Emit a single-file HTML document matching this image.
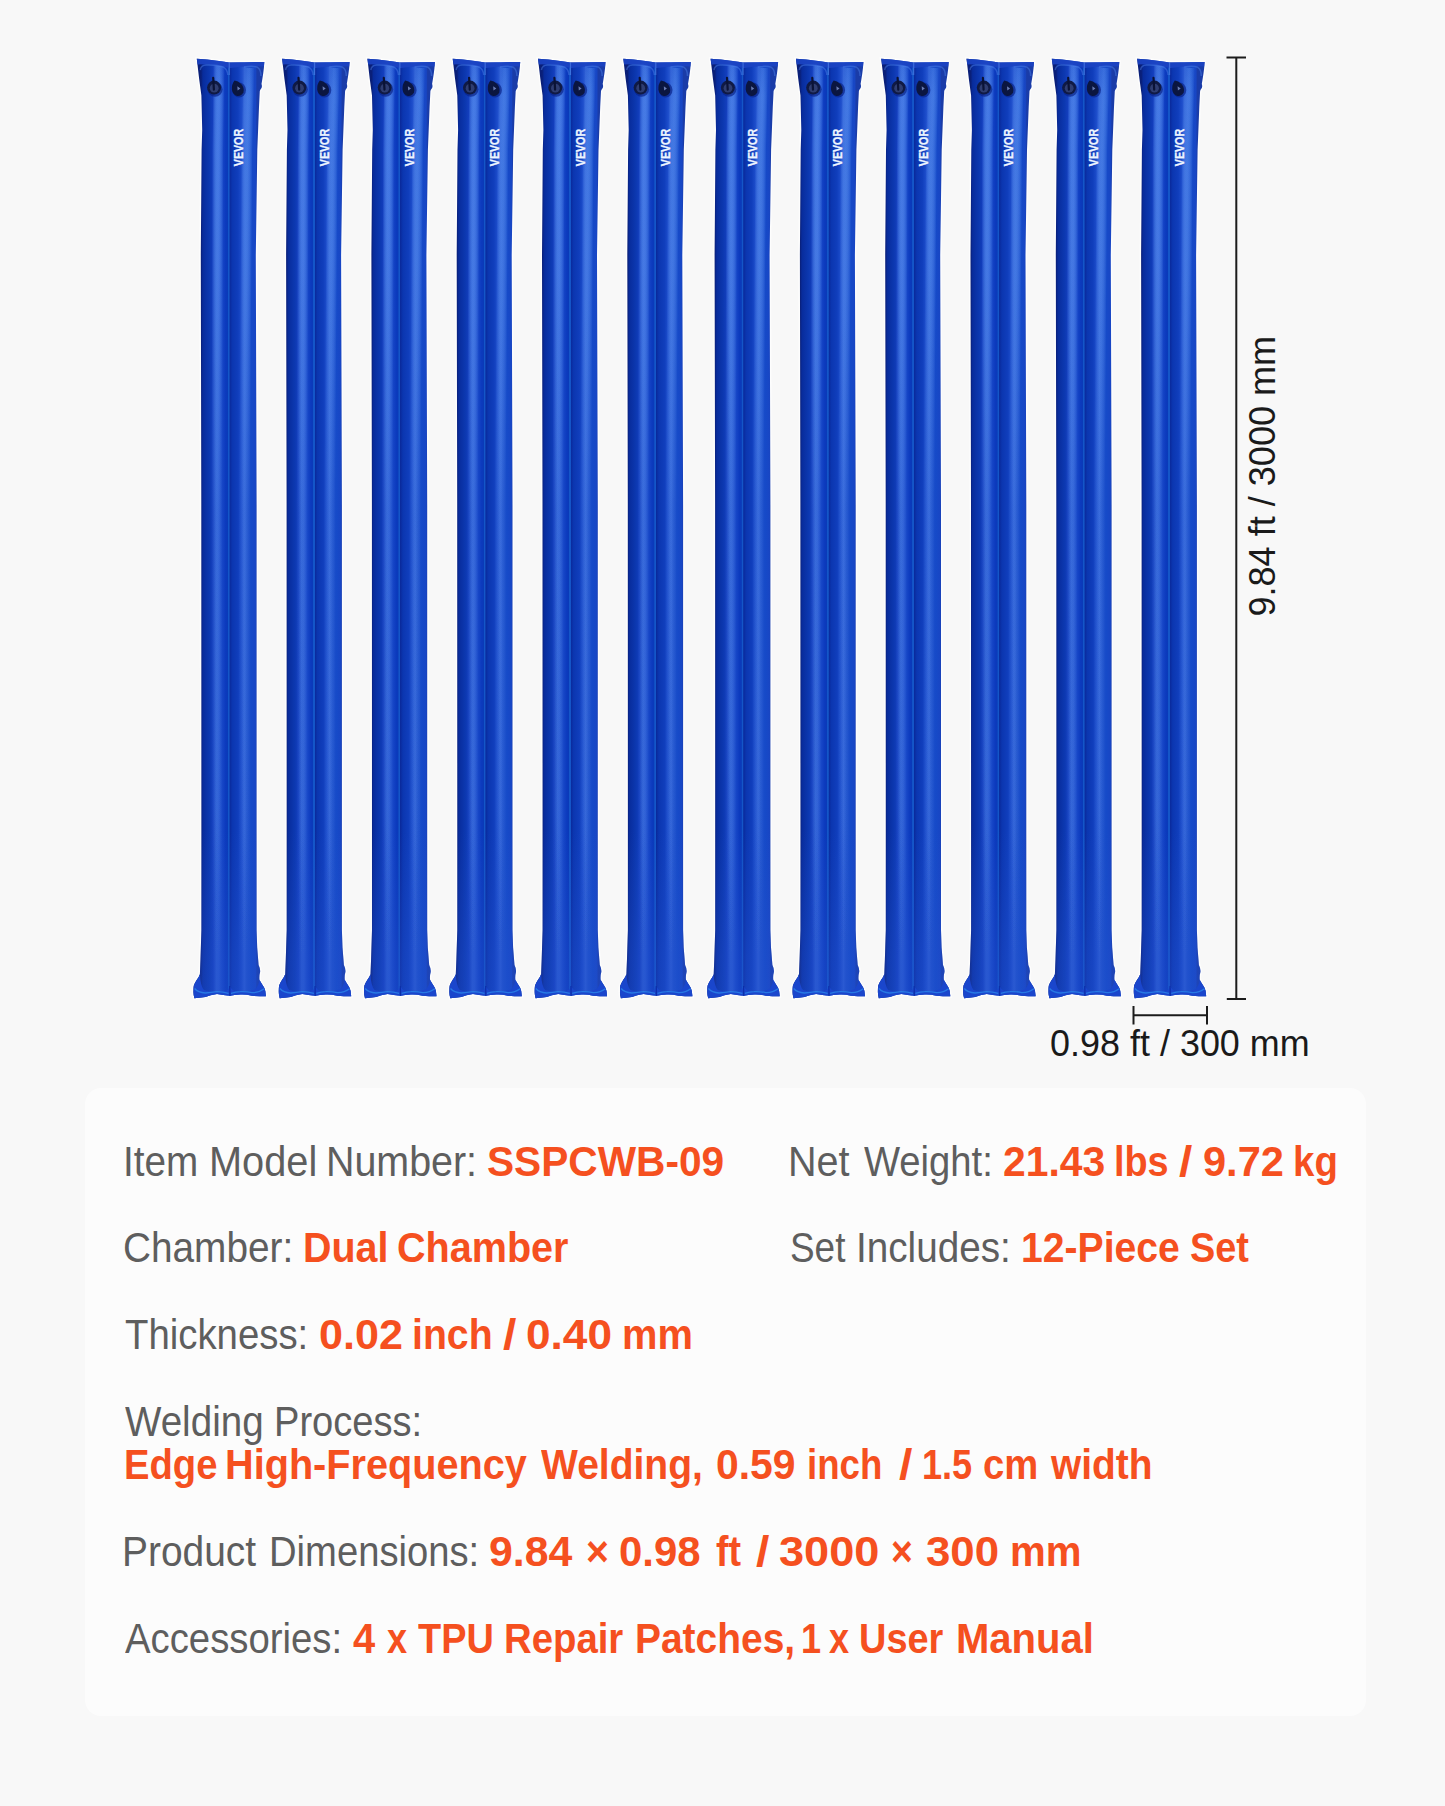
<!DOCTYPE html>
<html>
<head>
<meta charset="utf-8">
<style>
html,body{margin:0;padding:0;}
body{width:1445px;height:1806px;background:#f8f8f8;position:relative;overflow:hidden;font-family:"Liberation Sans",sans-serif;}
#art{position:absolute;left:0;top:0;width:1445px;height:1806px;}
#panel{position:absolute;left:85px;top:1088px;width:1281px;height:628px;border-radius:16px;background:#fcfcfc;}
.t{position:absolute;white-space:nowrap;font-size:42px;line-height:46px;color:#5e5e5e;transform-origin:0 0;font-weight:normal;}
b.t{color:#f5501f;font-weight:bold;}
</style>
</head>
<body>
<div id="panel"></div>
<svg id="art" width="1445" height="1806" viewBox="0 0 1445 1806">
<defs>
<linearGradient id="gb" gradientUnits="userSpaceOnUse" x1="201" y1="0" x2="257" y2="0">
<stop offset="0" stop-color="#0a1f78"/>
<stop offset="0.035" stop-color="#082c9c"/>
<stop offset="0.15" stop-color="#0c38b0"/>
<stop offset="0.215" stop-color="#143fbe"/>
<stop offset="0.275" stop-color="#2c5cd2"/>
<stop offset="0.315" stop-color="#2a5ad2"/>
<stop offset="0.375" stop-color="#1848c8"/>
<stop offset="0.44" stop-color="#0c3abe"/>
<stop offset="0.475" stop-color="#0a3ab8"/>
<stop offset="0.485" stop-color="#1456c8"/>
<stop offset="0.505" stop-color="#1456c8"/>
<stop offset="0.515" stop-color="#0a2a9c"/>
<stop offset="0.56" stop-color="#0b36b0"/>
<stop offset="0.66" stop-color="#103ebc"/>
<stop offset="0.72" stop-color="#1c4cca"/>
<stop offset="0.775" stop-color="#2e5ed4"/>
<stop offset="0.82" stop-color="#2052cc"/>
<stop offset="0.9" stop-color="#164ac8"/>
<stop offset="0.975" stop-color="#1846c4"/>
<stop offset="1" stop-color="#1a3ca8"/>
</linearGradient>
<linearGradient id="gv" gradientUnits="userSpaceOnUse" x1="0" y1="58" x2="0" y2="1000">
<stop offset="0" stop-color="#2452ce" stop-opacity="0"/>
<stop offset="0.82" stop-color="#2452ce" stop-opacity="0"/>
<stop offset="0.955" stop-color="#2452ce" stop-opacity="0.36"/>
<stop offset="1" stop-color="#2452ce" stop-opacity="0.42"/>
</linearGradient>
<linearGradient id="gs" gradientUnits="userSpaceOnUse" x1="0" y1="60" x2="0" y2="960">
<stop offset="0" stop-color="#4e84ea" stop-opacity="0.12"/>
<stop offset="0.04" stop-color="#4e84ea" stop-opacity="0.25"/>
<stop offset="0.22" stop-color="#4e84ea" stop-opacity="0.22"/>
<stop offset="0.5" stop-color="#4e84ea" stop-opacity="0.085"/>
<stop offset="0.83" stop-color="#4e84ea" stop-opacity="0.056"/>
<stop offset="1" stop-color="#4e84ea" stop-opacity="0"/>
</linearGradient>
<path id="tp" d="M196.8,58.8 L207,59.6 Q220,61 229.2,62.6 L246.8,62.2 L264.3,61.9 C264,70 262.5,78 261.5,84 Q262.3,86.3 261.5,88 Q260,90 259.8,91 L259,107 L258.1,130 L257.3,150 L255.8,255 L256.6,505 L256.6,930 L257.2,947.4 L258.6,965 Q260.5,969 260.1,972 Q259,976 259.5,980 Q261.5,983.5 263,985.8 Q265,988.5 265.3,991 L265.9,996.3 Q258,996.3 252,995.7 Q246,994.2 240.3,994.5 Q234,995 229.9,995.7 Q223,995 217,994 Q210,995 205.4,996.9 L194.4,998.3 Q193.3,994 193.5,991 Q193.5,988 193.8,985.8 Q195,982.5 196.7,980 Q199,977 199.9,974.2 L200.5,959 L201.4,930 L201.3,505 L200.8,255 L201.6,150 L202.2,130 L201.4,95.4 L199.1,78.4 Z"/>
<g id="tube">
<use href="#tp" fill="url(#gb)" stroke="#fff" stroke-width="3" stroke-opacity="0.75" paint-order="stroke"/>
<g fill="url(#gs)">
<path d="M213.8,66.0 L212.6,150.0 L211.6,505.0 L211.6,960.0 L222.0,960.0 L222.0,505.0 L223.0,150.0 L224.2,66.0 Z"/>
<path d="M214.8,66.0 L213.6,150.0 L212.6,505.0 L212.6,960.0 L221.0,960.0 L221.0,505.0 L222.0,150.0 L223.2,66.0 Z"/>
<path d="M215.8,66.0 L214.6,150.0 L213.6,505.0 L213.6,960.0 L220.0,960.0 L220.0,505.0 L221.0,150.0 L222.2,66.0 Z"/>
<path d="M216.8,66.0 L215.6,150.0 L214.6,505.0 L214.6,960.0 L219.0,960.0 L219.0,505.0 L220.0,150.0 L221.2,66.0 Z"/>
<path d="M217.8,66.0 L216.6,150.0 L215.6,505.0 L215.6,960.0 L218.0,960.0 L218.0,505.0 L219.0,150.0 L220.2,66.0 Z"/>
<path d="M243.8,68.0 L241.7,150.0 L239.2,505.0 L239.2,960.0 L249.6,960.0 L249.6,505.0 L252.1,150.0 L254.2,68.0 Z"/>
<path d="M244.8,68.0 L242.7,150.0 L240.2,505.0 L240.2,960.0 L248.6,960.0 L248.6,505.0 L251.1,150.0 L253.2,68.0 Z"/>
<path d="M245.8,68.0 L243.7,150.0 L241.2,505.0 L241.2,960.0 L247.6,960.0 L247.6,505.0 L250.1,150.0 L252.2,68.0 Z"/>
<path d="M246.8,68.0 L244.7,150.0 L242.2,505.0 L242.2,960.0 L246.6,960.0 L246.6,505.0 L249.1,150.0 L251.2,68.0 Z"/>
<path d="M247.8,68.0 L245.7,150.0 L243.2,505.0 L243.2,960.0 L245.6,960.0 L245.6,505.0 L248.1,150.0 L250.2,68.0 Z"/>
</g>
<use href="#tp" fill="url(#gv)" stroke="none"/>
<!-- top weld band -->
<path d="M196.8,58.8 L207,59.6 Q220,61 229.2,62.6 L246.8,62.2 L264.3,61.9 L263.9,66.5 Q246,65.5 230.5,68 L229,68 Q214,63.5 197.6,64.5 Z" fill="#1b43c2" opacity="0.92"/>
<path d="M200.2,70 Q201,65.3 206,65 Q217,64.6 223.5,67.2 Q227.3,69.3 227.8,75" fill="none" stroke="#4d82ea" stroke-width="1.5" opacity="0.45"/>
<path d="M244,67 Q253,65.6 257.5,67.3 Q261,69.4 261,76" fill="none" stroke="#4d82ea" stroke-width="1.5" opacity="0.45"/>
<path d="M229.3,62.6 L229.3,75" stroke="#5a8cf0" stroke-width="1.2" opacity="0.55"/>
<!-- valves -->
<ellipse cx="215" cy="89.3" rx="7.6" ry="7.4" fill="#0a2488" opacity="0.7"/>
<circle cx="214.1" cy="87.6" r="7" fill="#101a44"/>
<circle cx="214.2" cy="88.2" r="4.4" fill="#2f3d70"/>
<path d="M213.2,77.8 L213.9,89.6" stroke="#0b1336" stroke-width="2.2" stroke-linecap="round"/>
<ellipse cx="239.2" cy="90" rx="6.8" ry="7.6" fill="#0a2488" opacity="0.7"/>
<path d="M234.5,80.5 Q238,80.8 241.2,84 Q244.6,88 243.4,92.3 Q241.5,96.3 237.3,96 Q232.6,95 231.9,89.6 Q231.6,84 234.5,80.5 Z" fill="#0b1640"/>
<path d="M237.3,86.2 L240.4,88.6 L237.6,90.4 Z" fill="#6a7cb4"/>
<!-- logo -->
<text transform="translate(243.3,166.2) rotate(-90)" font-family="Liberation Sans, sans-serif" font-weight="bold" font-size="13.6" fill="#eef6ff" stroke="#eef6ff" stroke-width="0.35" textLength="37.3" lengthAdjust="spacingAndGlyphs">VEVOR</text>
<!-- bottom flare -->
<path d="M199.9,974.2 Q199,977 196.7,980 Q195,982.5 193.8,985.8 Q193.5,988 193.5,991 Q193.3,994 194.4,998.3 L205.4,996.9 Q210,995 217,994 Q223,995 229.9,995.7 Q234,995 240.3,994.5 Q246,994.2 252,995.7 Q258,996.3 265.9,996.3 L265.3,991 Q265,988.5 263,985.8 Q261.5,983.5 259.5,980 Q258.5,986 255,989.5 Q246,992.5 236,991.5 Q231.5,990 230,986 Q229,990 224,991.5 Q212,993 204,990 Q200.5,986 199.9,974.2 Z" fill="#1a46cc"/>
<path d="M194.6,988.5 Q198,992.6 205.4,993 Q211,992.2 217,991.6 Q223,991.8 228.6,993.4 M231,993.4 Q236,991.6 240.3,991.6 Q247,991.4 252,992.6 Q259,992.8 264.2,988.8" fill="none" stroke="#2a86ea" stroke-width="1.3" opacity="0.8"/>
<path d="M229.8,986 L229.9,995.7" stroke="#0c2fa8" stroke-width="1.2"/>
</g>
</defs>
<!--TUBES-->
<use href="#tube" x="0.0"/>
<use href="#tube" x="85.3"/>
<use href="#tube" x="170.6"/>
<use href="#tube" x="255.9"/>
<use href="#tube" x="341.2"/>
<use href="#tube" x="426.5"/>
<use href="#tube" x="513.8"/>
<use href="#tube" x="599.1"/>
<use href="#tube" x="684.4"/>
<use href="#tube" x="769.7"/>
<use href="#tube" x="855.0"/>
<use href="#tube" x="940.3"/>
<!--/TUBES-->
<!--DIMS-->
<g stroke="#1c1c1c" stroke-width="2" fill="none">
<path d="M1226.5,57.5H1246 M1236.3,57.5V999 M1226.8,999H1246"/>
<path d="M1133.5,1006V1024.5 M1133.5,1015.2H1207 M1207,1006V1024.5"/>
</g>
<text id="dimh" x="1050.1" y="1056.3" font-family="Liberation Sans, sans-serif" font-size="37" fill="#1a1a1a" textLength="259.6" lengthAdjust="spacingAndGlyphs">0.98 ft / 300 mm</text>
<text id="dimv" transform="translate(1274.6,616.5) rotate(-90)" font-family="Liberation Sans, sans-serif" font-size="37" fill="#1a1a1a" textLength="280.6" lengthAdjust="spacingAndGlyphs">9.84 ft / 3000 mm</text>
<!--/DIMS-->
</svg>
<!--ROWS-->
<span class="t" style="left:122.64px;top:1139.40px;transform:scaleX(0.9205)">Item</span>
<span class="t" style="left:208.76px;top:1139.40px;transform:scaleX(0.9463)">Model</span>
<span class="t" style="left:325.89px;top:1139.40px;transform:scaleX(0.9380)">Number:</span>
<b class="t" style="left:487.03px;top:1139.40px;transform:scaleX(0.9679)">SSPCWB-09</b>
<span class="t" style="left:123.05px;top:1225.40px;transform:scaleX(0.9231)">Chamber:</span>
<b class="t" style="left:303.02px;top:1225.40px;transform:scaleX(0.9381)">Dual</b>
<b class="t" style="left:396.66px;top:1225.40px;transform:scaleX(0.9419)">Chamber</b>
<span class="t" style="left:124.90px;top:1312.10px;transform:scaleX(0.9129)">Thickness:</span>
<b class="t" style="left:318.97px;top:1312.10px;transform:scaleX(1.0266)">0.02</b>
<b class="t" style="left:411.83px;top:1312.10px;transform:scaleX(0.9337)">inch</b>
<b class="t" style="left:502.70px;top:1312.10px;transform:scaleX(1.1500)">/</b>
<b class="t" style="left:525.95px;top:1312.10px;transform:scaleX(1.0518)">0.40</b>
<b class="t" style="left:622.30px;top:1312.10px;transform:scaleX(0.9496)">mm</b>
<span class="t" style="left:124.90px;top:1399.00px;transform:scaleX(0.9178)">Welding</span>
<span class="t" style="left:273.58px;top:1399.00px;transform:scaleX(0.9061)">Process:</span>
<b class="t" style="left:123.68px;top:1442.40px;transform:scaleX(0.9102)">Edge</b>
<b class="t" style="left:225.21px;top:1442.40px;transform:scaleX(0.9443)">High-Frequency</b>
<b class="t" style="left:540.90px;top:1442.40px;transform:scaleX(0.9292)">Welding,</b>
<b class="t" style="left:715.53px;top:1442.40px;transform:scaleX(0.9737)">0.59</b>
<b class="t" style="left:807.16px;top:1442.40px;transform:scaleX(0.8720)">inch</b>
<b class="t" style="left:899.35px;top:1442.40px;transform:scaleX(1.1500)">/</b>
<b class="t" style="left:921.54px;top:1442.40px;transform:scaleX(0.8600)">1.5</b>
<b class="t" style="left:982.89px;top:1442.40px;transform:scaleX(0.9101)">cm</b>
<b class="t" style="left:1051.23px;top:1442.40px;transform:scaleX(0.9259)">width</b>
<span class="t" style="left:122.12px;top:1529.00px;transform:scaleX(0.9263)">Product</span>
<span class="t" style="left:268.67px;top:1529.00px;transform:scaleX(0.9095)">Dimensions:</span>
<b class="t" style="left:489.38px;top:1529.00px;transform:scaleX(1.0198)">9.84</b>
<b class="t" style="left:585.57px;top:1529.00px;transform:scaleX(0.9318)">×</b>
<b class="t" style="left:619.00px;top:1529.00px;transform:scaleX(0.9989)">0.98</b>
<b class="t" style="left:716.40px;top:1529.00px;transform:scaleX(0.8933)">ft</b>
<b class="t" style="left:756.40px;top:1529.00px;transform:scaleX(1.1500)">/</b>
<b class="t" style="left:778.80px;top:1529.00px;transform:scaleX(1.0752)">3000</b>
<b class="t" style="left:891.11px;top:1529.00px;transform:scaleX(0.8864)">×</b>
<b class="t" style="left:925.70px;top:1529.00px;transform:scaleX(1.0434)">300</b>
<b class="t" style="left:1009.69px;top:1529.00px;transform:scaleX(0.9567)">mm</b>
<span class="t" style="left:124.90px;top:1616.10px;transform:scaleX(0.9121)">Accessories:</span>
<b class="t" style="left:353.10px;top:1616.10px;transform:scaleX(0.9500)">4</b>
<b class="t" style="left:386.63px;top:1616.10px;transform:scaleX(0.8600)">x</b>
<b class="t" style="left:418.20px;top:1616.10px;transform:scaleX(0.9024)">TPU</b>
<b class="t" style="left:503.78px;top:1616.10px;transform:scaleX(0.9122)">Repair</b>
<b class="t" style="left:634.95px;top:1616.10px;transform:scaleX(0.9269)">Patches,</b>
<b class="t" style="left:800.75px;top:1616.10px;transform:scaleX(0.8600)">1</b>
<b class="t" style="left:829.03px;top:1616.10px;transform:scaleX(0.8600)">x</b>
<b class="t" style="left:859.19px;top:1616.10px;transform:scaleX(0.9028)">User</b>
<b class="t" style="left:956.29px;top:1616.10px;transform:scaleX(0.9528)">Manual</b>
<span class="t" style="left:788.38px;top:1139.40px;transform:scaleX(0.9411)">Net</span>
<span class="t" style="left:864.20px;top:1139.40px;transform:scaleX(0.9097)">Weight:</span>
<b class="t" style="left:1002.73px;top:1139.40px;transform:scaleX(0.9723)">21.43</b>
<b class="t" style="left:1114.00px;top:1139.40px;transform:scaleX(0.9001)">lbs</b>
<b class="t" style="left:1179.40px;top:1139.40px;transform:scaleX(1.1417)">/</b>
<b class="t" style="left:1203.31px;top:1139.40px;transform:scaleX(0.9888)">9.72</b>
<b class="t" style="left:1293.37px;top:1139.40px;transform:scaleX(0.9153)">kg</b>
<span class="t" style="left:789.52px;top:1225.40px;transform:scaleX(0.8786)">Set</span>
<span class="t" style="left:856.44px;top:1225.40px;transform:scaleX(0.9211)">Includes:</span>
<b class="t" style="left:1020.54px;top:1225.40px;transform:scaleX(0.9318)">12-Piece</b>
<b class="t" style="left:1189.70px;top:1225.40px;transform:scaleX(0.9010)">Set</b>
<!--/ROWS-->
</body>
</html>
